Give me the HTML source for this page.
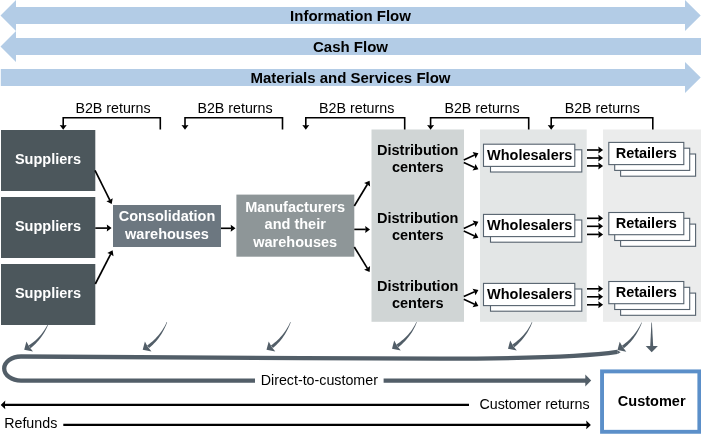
<!DOCTYPE html>
<html>
<head>
<meta charset="utf-8">
<title>Supply chain flows</title>
<style>
html,body{margin:0;padding:0;background:#fff;}
body{width:701px;height:434px;overflow:hidden;font-family:"Liberation Sans",sans-serif;}
svg{display:block;position:absolute;left:0;top:0;will-change:transform;}
text{font-family:"Liberation Sans",sans-serif;}
.b{font-weight:bold;}
.w{fill:#fff;}
.k{fill:#000;}
.bx{fill:#fff;stroke:#55626e;stroke-width:1.1;}
</style>
</head>
<body>
<svg width="701" height="434" viewBox="0 0 701 434">

<g fill="#b3cce6">
<path d="M0.5,15.5 L16,0 L16,7 L685,7 L685,0 L700.7,15.5 L685,31 L685,24 L16,24 L16,31 Z"/>
<path d="M0.5,46.5 L16,31 L16,38 L701,38 L701,55 L16,55 L16,62 Z"/>
<path d="M0.8,69 L685,69 L685,62 L700.7,77.5 L685,93 L685,86 L0.8,86 Z"/>
</g>
<g class="b k" font-size="15" text-anchor="middle">
<text x="350.5" y="20.5">Information Flow</text>
<text x="350.5" y="51.8">Cash Flow</text>
<text x="350.5" y="83.1">Materials and Services Flow</text>
</g>

<rect x="371.5" y="129.5" width="92.5" height="192.3" fill="#d0d5d5"/>
<rect x="480" y="129.5" width="106.7" height="192.3" fill="#e3e6e6"/>
<rect x="603" y="129.5" width="98" height="192.3" fill="#ebecec"/>

<g font-size="14.25" text-anchor="middle" class="k">
<text x="113.0" y="112.9">B2B returns</text>
<text x="235.0" y="112.9">B2B returns</text>
<text x="356.7" y="112.9">B2B returns</text>
<text x="482.0" y="112.9">B2B returns</text>
<text x="602.3" y="112.9">B2B returns</text>
</g>
<path d="M160.3,129.5 V117.8 H63.2 V127" stroke="#000" stroke-width="1.6" fill="none"/>
<path d="M63.20,129.80 L59.70,125.00 L63.20,125.40 L66.70,125.00 Z" fill="#000"/>
<path d="M282.5,129.5 V117.8 H185.0 V127" stroke="#000" stroke-width="1.6" fill="none"/>
<path d="M185.00,129.80 L181.50,125.00 L185.00,125.40 L188.50,125.00 Z" fill="#000"/>
<path d="M404.7,129.5 V117.8 H305.8 V127" stroke="#000" stroke-width="1.6" fill="none"/>
<path d="M305.80,129.80 L302.30,125.00 L305.80,125.40 L309.30,125.00 Z" fill="#000"/>
<path d="M528.7,129.5 V117.8 H430.6 V127" stroke="#000" stroke-width="1.6" fill="none"/>
<path d="M430.60,129.80 L427.10,125.00 L430.60,125.40 L434.10,125.00 Z" fill="#000"/>
<path d="M652.8,129.5 V117.8 H551.2 V127" stroke="#000" stroke-width="1.6" fill="none"/>
<path d="M551.20,129.80 L547.70,125.00 L551.20,125.40 L554.70,125.00 Z" fill="#000"/>
<g fill="#4c575c">
<rect x="1" y="130" width="94.3" height="61"/>
<rect x="1" y="197" width="94.3" height="61"/>
<rect x="1" y="264" width="94.3" height="61"/>
</g>
<g class="b w" font-size="14.5" text-anchor="middle">
<text x="48" y="163.8">Suppliers</text>
<text x="48" y="230.8">Suppliers</text>
<text x="48" y="297.8">Suppliers</text>
</g>
<rect x="113" y="205" width="108" height="42" fill="#6c7780"/>
<g class="b w" font-size="14.5" text-anchor="middle">
<text x="167" y="221.3">Consolidation</text>
<text x="167" y="238.7">warehouses</text>
</g>
<rect x="236.4" y="194.6" width="117.9" height="62.1" fill="#8e9698"/>
<g class="b w" font-size="14.5" text-anchor="middle">
<text x="295.2" y="211.5">Manufacturers</text>
<text x="295.2" y="229.1">and their</text>
<text x="295.2" y="246.6">warehouses</text>
</g>

<path d="M95.00,170.40 L109.83,200.24" stroke="#000" stroke-width="1.65" fill="none"/><path d="M111.70,204.00 L106.43,201.26 L109.74,200.06 L112.70,198.14 Z" fill="#000"/>
<path d="M95.30,228.10 L107.40,228.10" stroke="#000" stroke-width="1.65" fill="none"/><path d="M111.60,228.10 L106.80,231.60 L107.20,228.10 L106.80,224.60 Z" fill="#000"/>
<path d="M95.30,284.00 L110.68,254.04" stroke="#000" stroke-width="1.65" fill="none"/><path d="M112.60,250.30 L113.52,256.17 L110.59,254.21 L107.29,252.97 Z" fill="#000"/>
<path d="M221.00,228.30 L231.30,228.30" stroke="#000" stroke-width="1.65" fill="none"/><path d="M235.50,228.30 L230.70,231.80 L231.10,228.30 L230.70,224.80 Z" fill="#000"/>
<path d="M354.30,206.00 L367.43,184.29" stroke="#000" stroke-width="1.65" fill="none"/><path d="M369.60,180.70 L370.11,186.62 L367.32,184.47 L364.12,183.00 Z" fill="#000"/>
<path d="M354.30,229.40 L365.80,229.40" stroke="#000" stroke-width="1.65" fill="none"/><path d="M370.00,229.40 L365.20,232.90 L365.60,229.40 L365.20,225.90 Z" fill="#000"/>
<path d="M354.30,247.00 L367.40,268.32" stroke="#000" stroke-width="1.65" fill="none"/><path d="M369.60,271.90 L364.11,269.64 L367.30,268.15 L370.07,265.98 Z" fill="#000"/>
<path d="M463.80,160.00 L474.59,154.97" stroke="#000" stroke-width="1.65" fill="none"/><path d="M478.40,153.20 L475.53,158.40 L474.41,155.06 L472.57,152.05 Z" fill="#000"/>
<path d="M463.80,162.60 L474.58,167.55" stroke="#000" stroke-width="1.65" fill="none"/><path d="M478.40,169.30 L472.58,170.48 L474.40,167.46 L475.50,164.12 Z" fill="#000"/>
<path d="M463.80,228.40 L474.58,223.45" stroke="#000" stroke-width="1.65" fill="none"/><path d="M478.40,221.70 L475.50,226.88 L474.40,223.54 L472.58,220.52 Z" fill="#000"/>
<path d="M463.80,230.90 L474.59,235.93" stroke="#000" stroke-width="1.65" fill="none"/><path d="M478.40,237.70 L472.57,238.85 L474.41,235.84 L475.53,232.50 Z" fill="#000"/>
<path d="M463.80,296.60 L474.57,291.73" stroke="#000" stroke-width="1.65" fill="none"/><path d="M478.40,290.00 L475.47,295.17 L474.39,291.81 L472.58,288.79 Z" fill="#000"/>
<path d="M463.80,299.20 L474.59,304.23" stroke="#000" stroke-width="1.65" fill="none"/><path d="M478.40,306.00 L472.57,307.15 L474.41,304.14 L475.53,300.80 Z" fill="#000"/>
<path d="M587.00,150.00 L598.90,150.00" stroke="#000" stroke-width="1.65" fill="none"/><path d="M603.10,150.00 L598.30,153.50 L598.70,150.00 L598.30,146.50 Z" fill="#000"/>
<path d="M587.00,158.00 L598.90,158.00" stroke="#000" stroke-width="1.65" fill="none"/><path d="M603.10,158.00 L598.30,161.50 L598.70,158.00 L598.30,154.50 Z" fill="#000"/>
<path d="M587.00,165.90 L598.90,165.90" stroke="#000" stroke-width="1.65" fill="none"/><path d="M603.10,165.90 L598.30,169.40 L598.70,165.90 L598.30,162.40 Z" fill="#000"/>
<path d="M587.00,218.30 L598.90,218.30" stroke="#000" stroke-width="1.65" fill="none"/><path d="M603.10,218.30 L598.30,221.80 L598.70,218.30 L598.30,214.80 Z" fill="#000"/>
<path d="M587.00,226.30 L598.90,226.30" stroke="#000" stroke-width="1.65" fill="none"/><path d="M603.10,226.30 L598.30,229.80 L598.70,226.30 L598.30,222.80 Z" fill="#000"/>
<path d="M587.00,234.40 L598.90,234.40" stroke="#000" stroke-width="1.65" fill="none"/><path d="M603.10,234.40 L598.30,237.90 L598.70,234.40 L598.30,230.90 Z" fill="#000"/>
<path d="M587.00,288.80 L598.90,288.80" stroke="#000" stroke-width="1.65" fill="none"/><path d="M603.10,288.80 L598.30,292.30 L598.70,288.80 L598.30,285.30 Z" fill="#000"/>
<path d="M587.00,296.80 L598.90,296.80" stroke="#000" stroke-width="1.65" fill="none"/><path d="M603.10,296.80 L598.30,300.30 L598.70,296.80 L598.30,293.30 Z" fill="#000"/>
<path d="M587.00,304.80 L598.90,304.80" stroke="#000" stroke-width="1.65" fill="none"/><path d="M603.10,304.80 L598.30,308.30 L598.70,304.80 L598.30,301.30 Z" fill="#000"/>
<g class="b k" font-size="14.5" text-anchor="middle">
<text x="417.7" y="154.5">Distribution</text>
<text x="417.7" y="171.7">centers</text>
<text x="417.7" y="223.2">Distribution</text>
<text x="417.7" y="240">centers</text>
<text x="417.7" y="291.4">Distribution</text>
<text x="417.7" y="308.3">centers</text>
</g>

<g class="bx">
<rect x="490.5" y="149.8" width="91.3" height="22.2"/><rect x="483.5" y="144.2" width="91.3" height="22.2"/>
<rect x="490.5" y="220.0" width="91.3" height="22.2"/><rect x="483.5" y="214.4" width="91.3" height="22.2"/>
<rect x="490.5" y="289.0" width="91.3" height="22.2"/><rect x="483.5" y="283.4" width="91.3" height="22.2"/>
<rect x="620.6" y="154.0" width="75" height="22.2"/><rect x="614.7" y="148.2" width="75" height="22.2"/><rect x="608.8" y="142.4" width="75" height="22.2"/>
<rect x="620.6" y="224.1" width="75" height="22.2"/><rect x="614.7" y="218.3" width="75" height="22.2"/><rect x="608.8" y="212.5" width="75" height="22.2"/>
<rect x="620.6" y="293.1" width="75" height="22.2"/><rect x="614.7" y="287.3" width="75" height="22.2"/><rect x="608.8" y="281.5" width="75" height="22.2"/>
</g>
<g class="b k" font-size="14.5" text-anchor="middle">
<text x="529.7" y="159.6">Wholesalers</text>
<text x="529.7" y="229.8">Wholesalers</text>
<text x="529.7" y="298.8">Wholesalers</text>
<text x="646.3" y="157.7">Retailers</text>
<text x="646.3" y="227.8">Retailers</text>
<text x="646.3" y="296.8">Retailers</text>
</g>
<path d="M47.97,323.70 L47.01,325.63 L45.98,327.51 L44.89,329.32 L43.72,331.07 L42.49,332.77 L41.20,334.40 L39.85,335.98 L38.43,337.50 L36.95,338.97 L35.41,340.38 L33.81,341.73 L32.15,343.03 L30.43,344.27 L28.64,345.46 L30.56,348.14 L32.31,346.71 L33.98,345.23 L35.58,343.70 L37.11,342.12 L38.56,340.50 L39.94,338.83 L41.25,337.12 L42.49,335.36 L43.65,333.56 L44.74,331.71 L45.77,329.82 L46.72,327.89 L47.60,325.91 L48.43,323.90 Z" fill="#525e68"/><path d="M24.20,349.80 L26.40,341.50 L29.40,346.90 L33.00,351.60 Z" fill="#525e68"/>
<path d="M166.67,322.11 L165.70,324.16 L164.66,326.16 L163.55,328.09 L162.38,329.97 L161.14,331.78 L159.83,333.54 L158.46,335.23 L157.02,336.87 L155.52,338.45 L153.96,339.97 L152.34,341.44 L150.66,342.84 L148.91,344.19 L147.10,345.49 L149.10,348.11 L150.87,346.57 L152.56,344.98 L154.17,343.35 L155.71,341.66 L157.18,339.93 L158.57,338.15 L159.89,336.33 L161.14,334.46 L162.31,332.54 L163.41,330.58 L164.45,328.58 L165.41,326.53 L166.30,324.43 L167.13,322.29 Z" fill="#525e68"/><path d="M142.70,349.80 L144.90,341.50 L147.90,346.90 L151.50,351.60 Z" fill="#525e68"/>
<path d="M290.27,322.11 L289.31,324.16 L288.28,326.16 L287.18,328.09 L286.01,329.97 L284.78,331.78 L283.49,333.54 L282.13,335.24 L280.71,336.87 L279.23,338.45 L277.68,339.98 L276.08,341.44 L274.41,342.85 L272.68,344.20 L270.89,345.49 L272.91,348.11 L274.65,346.57 L276.32,344.98 L277.92,343.34 L279.44,341.66 L280.89,339.93 L282.27,338.15 L283.57,336.33 L284.80,334.46 L285.96,332.54 L287.05,330.58 L288.07,328.57 L289.02,326.52 L289.91,324.43 L290.73,322.29 Z" fill="#525e68"/><path d="M266.50,349.80 L268.70,341.50 L271.70,346.90 L275.30,351.60 Z" fill="#525e68"/>
<path d="M416.37,322.10 L415.39,324.08 L414.33,326.00 L413.21,327.85 L412.01,329.65 L410.75,331.39 L409.42,333.07 L408.02,334.69 L406.56,336.26 L405.04,337.76 L403.45,339.21 L401.79,340.61 L400.07,341.94 L398.29,343.23 L396.44,344.46 L398.36,347.14 L400.17,345.67 L401.90,344.15 L403.56,342.58 L405.14,340.96 L406.64,339.30 L408.07,337.59 L409.43,335.83 L410.70,334.03 L411.90,332.18 L413.03,330.29 L414.09,328.36 L415.07,326.38 L415.98,324.36 L416.83,322.30 Z" fill="#525e68"/><path d="M392.00,348.80 L394.20,340.50 L397.20,345.90 L400.80,350.60 Z" fill="#525e68"/>
<path d="M531.87,322.10 L530.91,324.08 L529.87,326.00 L528.77,327.86 L527.60,329.66 L526.37,331.40 L525.07,333.08 L523.70,334.70 L522.28,336.27 L520.79,337.77 L519.24,339.22 L517.63,340.62 L515.96,341.96 L514.22,343.24 L512.43,344.47 L514.37,347.13 L516.13,345.66 L517.81,344.14 L519.42,342.57 L520.96,340.95 L522.42,339.29 L523.81,337.58 L525.12,335.82 L526.36,334.02 L527.53,332.18 L528.63,330.29 L529.65,328.36 L530.61,326.38 L531.50,324.36 L532.33,322.30 Z" fill="#525e68"/><path d="M508.00,348.80 L510.20,340.50 L513.20,345.90 L516.80,350.60 Z" fill="#525e68"/>
<path d="M641.47,322.41 L640.50,324.45 L639.46,326.44 L638.35,328.37 L637.18,330.24 L635.94,332.04 L634.63,333.79 L633.26,335.48 L631.82,337.11 L630.33,338.68 L628.77,340.20 L627.14,341.65 L625.46,343.05 L623.71,344.40 L621.90,345.69 L623.90,348.31 L625.66,346.78 L627.35,345.20 L628.97,343.57 L630.51,341.89 L631.98,340.17 L633.37,338.40 L634.69,336.58 L635.94,334.72 L637.11,332.81 L638.21,330.85 L639.24,328.85 L640.21,326.81 L641.10,324.72 L641.93,322.59 Z" fill="#525e68"/><path d="M617.50,350.00 L619.70,341.70 L622.70,347.10 L626.30,351.80 Z" fill="#525e68"/>
<path d="M651.4,322.5 L651.9,322.5 L653.2,346.5 L650.2,346.5 Z" fill="#525e68"/>
<path d="M651.7,352.2 L645.7,346.1 L657.9,346.1 Z" fill="#525e68"/>
<path stroke="#525e68" fill="none" stroke-width="4.3" d="M617.3,351.9 C590,356 520,358.6 440,358.6 C300,358.6 150,356.5 21,356.5 A16.8,12.05 0 0 0 21,380.6 H586"/>
<path d="M616.9,349.9 L620.6,352.3 L617.6,354 Z" fill="#525e68"/>
<path d="M591.2,380.4 L585.3,374.4 L585.3,386.4 Z" fill="#525e68"/>
<rect x="255" y="370" width="128.6" height="20" fill="#fff"/>
<text x="319.3" y="384.9" font-size="14.25" text-anchor="middle" class="k">Direct-to-customer</text>

<path d="M469,404.9 H3.5" stroke="#000" stroke-width="2.3" fill="none"/>
<path d="M0.70,404.90 L5.30,400.55 L4.80,404.90 L5.30,409.25 Z" fill="#000"/>
<path d="M63.3,424.9 H587.5" stroke="#000" stroke-width="2.3" fill="none"/>
<path d="M590.90,424.90 L586.20,429.30 L586.70,424.90 L586.20,420.50 Z" fill="#000"/>
<text x="479.5" y="408.9" font-size="14.25" class="k">Customer returns</text>
<text x="4.2" y="427.9" font-size="14.25" class="k">Refunds</text>
<rect x="602.05" y="371.4" width="97.3" height="60.4" fill="#fff" stroke="#5b8fc9" stroke-width="3.9"/>
<text x="651.7" y="405.7" font-size="14.5" text-anchor="middle" class="b k">Customer</text>
</svg>
</body>
</html>
